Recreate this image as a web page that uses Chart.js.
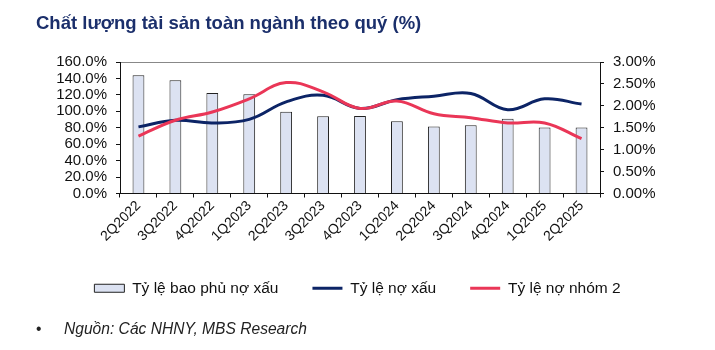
<!DOCTYPE html>
<html>
<head>
<meta charset="utf-8">
<script src="https://cdn.jsdelivr.net/npm/chart.js@4"></script>
<style>
  body { margin: 0; background: #fff; }
  #wrap { position: relative; width: 715px; height: 350px; font-family: 'Liberation Sans', Arial, sans-serif; }
  #title { position: absolute; left: 36px; top: 12px; font-size: 18.5px; font-weight: bold; color: #1b2f6b; white-space: nowrap; }
  #note { position: absolute; left: 36px; top: 320px; font-size: 15.6px; color: #222; }
  #note i { position: absolute; left: 28px; white-space: nowrap; }
  canvas { position: absolute; left: 0; top: 0; }
</style>
</head>
<body>
<div id="wrap">
  <canvas id="canvas" width="715" height="350"></canvas>
  <div id="title">Chất lượng tài sản toàn ngành theo quý (%)</div>
  <div id="note">•<i>Nguồn: Các NHNY, MBS Research</i></div>
</div>
<script>
// quarters
const quarters = ['2Q2022', '3Q2022', '4Q2022', '1Q2023', '2Q2023', '3Q2023', '4Q2023',
    '1Q2024', '2Q2024', '3Q2024', '4Q2024', '1Q2025', '2Q2025'];

// coverage ratio (%), left axis
const coverage = [143.8, 137.7, 122.3, 120.7, 99.6, 94.0, 94.4, 87.9, 81.4, 83.0, 91.1, 80.2, 80.2];

// NPL ratio (%), right axis
const npl = [1.52, 1.67, 1.61, 1.69, 2.09, 2.24, 1.94, 2.14, 2.22, 2.28, 1.91, 2.16, 2.04];

// group 2 debt ratio (%), right axis
const group2 = [1.31, 1.67, 1.86, 2.16, 2.53, 2.32, 1.94, 2.11, 1.82, 1.73, 1.61, 1.61, 1.25];

const FONT = "'Liberation Sans', Arial, sans-serif";

createChart();

function createChart() {
    var ctx = document.getElementById('canvas').getContext('2d');

    var chart = new Chart(ctx, {
        type: 'bar',
        data: {
            labels: quarters,
            datasets: [
                {
                    label: 'Tỷ lệ bao phủ nợ xấu',
                    data: coverage,
                    yAxisID: 'y',
                    backgroundColor: '#dce2f2',
                    borderColor: '#222',
                    borderWidth: 1,
                    categoryPercentage: 1,
                    barPercentage: 0.32,
                    order: 3
                },
                {
                    label: 'Tỷ lệ nợ xấu',
                    type: 'line',
                    data: npl,
                    yAxisID: 'y1',
                    borderColor: '#0c2466',
                    backgroundColor: '#0c2466',
                    borderWidth: 3,
                    pointRadius: 0,
                    tension: 0.4,
                    order: 2
                },
                {
                    label: 'Tỷ lệ nợ nhóm 2',
                    type: 'line',
                    data: group2,
                    yAxisID: 'y1',
                    borderColor: '#ea3657',
                    backgroundColor: '#ea3657',
                    borderWidth: 3,
                    pointRadius: 0,
                    tension: 0.4,
                    order: 1
                }
            ]
        },
        options: {
            responsive: false,
            animation: false,
            layout: { padding: { top: 62, left: 0, right: 0, bottom: 44 } },
            plugins: {
                tooltip: { enabled: false },
                legend: {
                    position: 'bottom',
                    labels: {
                        font: { family: FONT, size: 15.5 },
                        color: '#111',
                        usePointStyle: true,
                        pointStyleWidth: 30,
                        boxHeight: 8,
                        padding: 34,
                        sort: (a, b) => a.datasetIndex - b.datasetIndex,
                        generateLabels: function (chart) {
                            return chart.data.datasets.map((ds, i) => ({
                                text: ds.label,
                                datasetIndex: i,
                                fillStyle: ds.backgroundColor,
                                strokeStyle: ds.type === 'line' ? ds.borderColor : '#222',
                                lineWidth: ds.type === 'line' ? 3 : 1,
                                pointStyle: ds.type === 'line' ? 'line' : 'rect',
                                fontColor: '#111',
                                hidden: false
                            }));
                        }
                    }
                }
            },
            scales: {
                x: {
                    grid: { drawOnChartArea: false, color: '#111', tickLength: 4, offset: true },
                    border: { color: '#111' },
                    ticks: {
                        font: { family: FONT, size: 14 },
                        color: '#111',
                        minRotation: 45,
                        maxRotation: 45,
                        padding: 0
                    },
                    afterFit: s => { s.height = 53; }
                },
                x2: {
                    position: 'top',
                    grid: { display: false },
                    ticks: { display: false },
                    border: { display: true, color: '#888' },
                    afterFit: s => { s.height = 0; }
                },
                y: {
                    position: 'left',
                    min: 0,
                    max: 160,
                    ticks: {
                        stepSize: 20,
                        autoSkip: false,
                        font: { family: FONT, size: 15 },
                        color: '#111',
                        padding: 9,
                        callback: v => v.toFixed(1) + '%'
                    },
                    grid: { drawOnChartArea: false, color: '#111', tickLength: 4 },
                    border: { color: '#111' },
                    afterFit: s => { s.width = 120; }
                },
                y1: {
                    position: 'right',
                    min: 0,
                    max: 3,
                    ticks: {
                        stepSize: 0.5,
                        autoSkip: false,
                        font: { family: FONT, size: 15 },
                        color: '#111',
                        padding: 9,
                        callback: v => v.toFixed(2) + '%'
                    },
                    grid: { drawOnChartArea: false, color: '#111', tickLength: 4 },
                    border: { color: '#111' },
                    afterFit: s => { s.width = 115; }
                }
            }
        }
    });
}
</script>
</body>
</html>
